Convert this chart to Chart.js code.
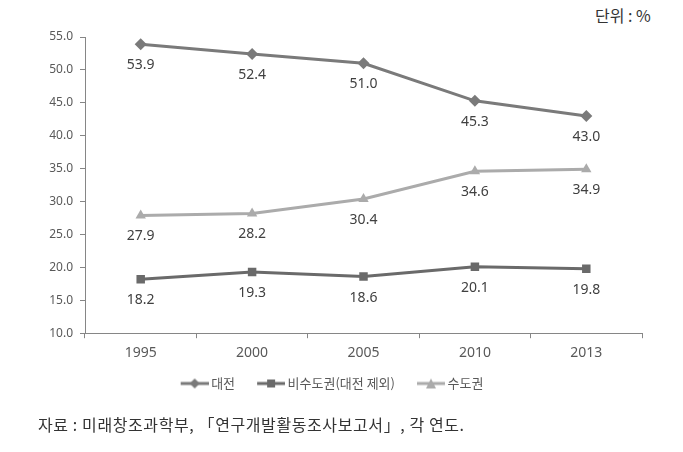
<!DOCTYPE html>
<html>
<head>
<meta charset="utf-8">
<script src="https://cdn.jsdelivr.net/npm/chart.js@4.4.1/dist/chart.umd.min.js"></script>
<style>
  body { margin: 0; background: #fff; width: 683px; height: 452px; position: relative; overflow: hidden; }
  #wrap { position: absolute; left: 0; top: 0; width: 683px; height: 421px; }
  #unit { position: absolute; left: 595px; top: 3px; font: 16px "Noto Sans CJK KR", sans-serif; color: #333; }
  #source { position: absolute; left: 38px; top: 412px; font: 16px "Noto Sans CJK KR", sans-serif; color: #333; letter-spacing: 0.6px; }
</style>
</head>
<body>
<div id="unit">단위 : %</div>
<div id="wrap"><canvas id="lineChart"></canvas></div>
<div id="source">자료 : 미래창조과학부, 「연구개발활동조사보고서」, 각 연도.</div>
<script>
const years = ['1995', '2000', '2005', '2010', '2013'];   // x-axis categories
const daejeon = [53.9, 52.4, 51.0, 45.3, 43.0];           // 대전
const nonCapital = [18.2, 19.3, 18.6, 20.1, 19.8];        // 비수도권(대전 제외)
const capital = [27.9, 28.2, 30.4, 34.6, 34.9];           // 수도권
const yTicks = [10, 15, 20, 25, 30, 35, 40, 45, 50, 55];  // y-axis tick values

// legend icon: short line with the marker in the middle (Excel style)
// left part of the canvas is left empty so the gap between items looks wider
function legendIcon(color, shape){
    const c = document.createElement('canvas');
    c.width = 44; c.height = 12;
    const g = c.getContext('2d');
    g.strokeStyle = color; g.fillStyle = color; g.lineWidth = 3;
    g.beginPath(); g.moveTo(16, 6); g.lineTo(44, 6); g.stroke();
    g.beginPath();
    if (shape === 'diamond') { g.moveTo(30, 1); g.lineTo(35, 6); g.lineTo(30, 11); g.lineTo(25, 6); }
    else if (shape === 'square') { g.rect(26, 2, 8, 8); }
    else { g.moveTo(30, 1); g.lineTo(35, 11); g.lineTo(25, 11); }
    g.closePath(); g.fill();
    return c;
}

// draws the value under each point
const valueLabels = {
    id: 'valueLabels',
    afterDatasetsDraw(chart){
        const ctx = chart.ctx;
        ctx.save();
        ctx.font = '14px "Noto Sans", sans-serif';
        ctx.fillStyle = '#404040';
        ctx.textAlign = 'center';
        ctx.textBaseline = 'middle';
        chart.data.datasets.forEach((ds, i) => {
            chart.getDatasetMeta(i).data.forEach((pt, j) => {
                ctx.fillText(ds.data[j].toFixed(1), pt.x, pt.y + 21);
            });
        });
        ctx.restore();
    }
};

const colors = ['#7a7a7a', '#6a6a6a', '#ababab'];
const shapes = ['diamond', 'square', 'triangle'];

new Chart(document.getElementById('lineChart'), {
    type: 'line',
    data: {
        labels: years,
        datasets: [
            { label: '대전', data: daejeon, pointStyle: 'rectRot', pointRadius: 6 },
            { label: '비수도권(대전 제외)', data: nonCapital, pointStyle: 'rect', pointRadius: 6 },
            { label: '수도권', data: capital, pointStyle: 'triangle', pointRadius: 6 }
        ].map((d, i) => Object.assign(d, {
            borderColor: colors[i],
            backgroundColor: colors[i],
            pointBackgroundColor: colors[i],
            pointBorderWidth: 0,
            pointHoverRadius: 6,
            borderWidth: 3,
            tension: 0,
            fill: false
        }))
    },
    options: {
        responsive: true,
        maintainAspectRatio: false,
        animation: false,
        layout: { padding: { left: 10, right: 41, top: 37, bottom: 21 } },
        scales: {
            x: {
                offset: true,
                grid: { offset: true, drawOnChartArea: false, tickLength: 5, color: '#868686' },
                border: { color: '#868686' },
                ticks: { color: '#595959', font: { family: '"Noto Sans", sans-serif', size: 14 }, padding: 6 }
            },
            y: {
                min: 10, max: 55,
                afterBuildTicks: axis => { axis.ticks = yTicks.map(v => ({ value: v })); },
                afterFit: axis => { axis.width = 75; },
                grid: { drawOnChartArea: false, tickLength: 5, color: '#868686' },
                border: { color: '#868686' },
                ticks: {
                    color: '#595959',
                    font: { family: '"Noto Sans", sans-serif', size: 12 },
                    padding: 7,
                    callback: v => Number(v).toFixed(1)
                }
            }
        },
        plugins: {
            legend: {
                position: 'bottom',
                labels: {
                    usePointStyle: true,
                    pointStyleWidth: 36,
                    color: '#595959',
                    font: { family: '"Noto Sans CJK KR", sans-serif', size: 13 },
                    padding: 10,
                    generateLabels: chart => chart.data.datasets.map((ds, i) => ({
                        text: ds.label,
                        pointStyle: legendIcon(colors[i], shapes[i]),
                        fontColor: '#595959',
                        lineWidth: 0,
                        datasetIndex: i
                    }))
                }
            },
            tooltip: { enabled: false }
        }
    },
    plugins: [valueLabels]
});
</script>
</body>
</html>
